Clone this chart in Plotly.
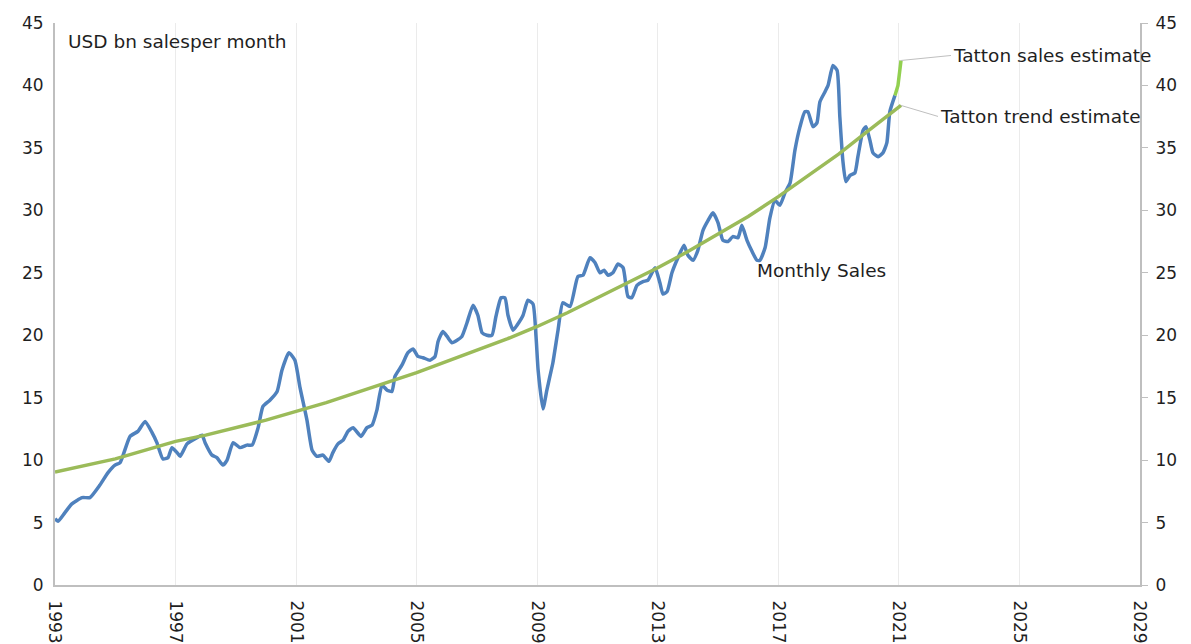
import plotly.graph_objects as go

# ---- data ----
sales_year = [1993.00, 1993.10, 1993.33, 1993.56, 1993.90, 1994.16, 1994.49, 1994.76, 1994.99, 1995.16,
              1995.49, 1995.75, 1995.99, 1996.22, 1996.38, 1996.58, 1996.75, 1996.88, 1997.05, 1997.15,
              1997.38, 1997.71, 1997.88, 1997.98, 1998.21, 1998.37, 1998.57, 1998.71, 1998.91, 1999.14,
              1999.37, 1999.54, 1999.74, 1999.90, 2000.13, 2000.37, 2000.53, 2000.76, 2000.96, 2001.13,
              2001.36, 2001.53, 2001.69, 2001.89, 2002.09, 2002.22, 2002.39, 2002.56, 2002.72, 2002.89,
              2003.15, 2003.35, 2003.52, 2003.68, 2003.85, 2004.02, 2004.18, 2004.28, 2004.51, 2004.71,
              2004.88, 2005.04, 2005.21, 2005.44, 2005.61, 2005.71, 2005.87, 2006.01, 2006.17, 2006.34,
              2006.50, 2006.67, 2006.87, 2007.03, 2007.17, 2007.33, 2007.50, 2007.63, 2007.80, 2007.93,
              2008.03, 2008.20, 2008.33, 2008.53, 2008.69, 2008.86, 2008.96, 2009.03, 2009.19, 2009.32,
              2009.42, 2009.52, 2009.69, 2009.85, 2010.09, 2010.35, 2010.52, 2010.75, 2010.92, 2011.08,
              2011.22, 2011.35, 2011.51, 2011.68, 2011.85, 2012.01, 2012.14, 2012.31, 2012.51, 2012.67,
              2012.91, 2013.07, 2013.17, 2013.31, 2013.47, 2013.67, 2013.87, 2014.00, 2014.17, 2014.33,
              2014.50, 2014.67, 2014.83, 2015.00, 2015.16, 2015.33, 2015.49, 2015.66, 2015.79, 2015.96,
              2016.13, 2016.29, 2016.39, 2016.56, 2016.72, 2016.89, 2017.05, 2017.22, 2017.39, 2017.55,
              2017.72, 2017.88, 2017.98, 2018.15, 2018.28, 2018.38, 2018.55, 2018.65, 2018.81, 2018.95,
              2019.04, 2019.14, 2019.24, 2019.38, 2019.54, 2019.64, 2019.81, 2019.91, 2020.04, 2020.14,
              2020.31, 2020.47, 2020.60, 2020.70, 2020.87]
sales_value = [5.3, 5.1, 5.8, 6.5, 7.0, 7.0, 8.0, 9.0, 9.6, 9.8,
               11.9, 12.3, 13.1, 12.2, 11.4, 10.1, 10.2, 11.0, 10.6, 10.3,
               11.3, 11.8, 12.0, 11.4, 10.4, 10.2, 9.6, 10.0, 11.4, 11.0,
               11.2, 11.2, 12.6, 14.3, 14.8, 15.5, 17.2, 18.6, 18.0, 15.8,
               13.2, 10.8, 10.3, 10.4, 9.9, 10.6, 11.3, 11.6, 12.3, 12.6,
               11.9, 12.6, 12.8, 14.0, 16.0, 15.6, 15.5, 16.7, 17.6, 18.6,
               18.9, 18.3, 18.2, 18.0, 18.3, 19.5, 20.3, 19.9, 19.4, 19.6,
               19.9, 21.0, 22.4, 21.6, 20.2, 20.0, 20.0, 21.5, 23.0, 23.0,
               21.6, 20.4, 20.8, 21.6, 22.8, 22.5, 19.9, 17.2, 14.1, 15.6,
               16.7, 17.8, 20.4, 22.6, 22.3, 24.7, 24.8, 26.2, 25.8, 25.0,
               25.2, 24.8, 25.0, 25.7, 25.4, 23.1, 23.0, 24.0, 24.3, 24.4,
               25.4, 24.2, 23.3, 23.5, 25.0, 26.2, 27.2, 26.4, 26.0, 26.8,
               28.4, 29.2, 29.8, 29.0, 27.6, 27.5, 27.9, 27.8, 28.8, 27.6,
               26.7, 26.0, 26.0, 27.0, 29.4, 30.8, 30.4, 31.4, 32.2, 34.8,
               36.7, 37.9, 37.9, 36.7, 37.0, 38.7, 39.5, 40.0, 41.6, 41.2,
               37.5, 34.0, 32.3, 32.8, 33.0, 34.3, 36.4, 36.7, 35.6, 34.6,
               34.3, 34.6, 35.4, 37.9, 39.2]

trend_year = [1993, 1994, 1995, 1996, 1997, 1998, 1999, 2000, 2001, 2002,
              2003, 2004, 2005, 2006, 2007, 2008, 2009, 2010, 2011, 2012,
              2013, 2014, 2015, 2016, 2017, 2018, 2019, 2020, 2021, 2021.07]
trend_value = [9.05, 9.6, 10.1, 10.8, 11.5, 12.0, 12.6, 13.2, 13.9, 14.6,
               15.4, 16.2, 17.0, 17.9, 18.8, 19.7, 20.7, 21.8, 23.0, 24.2,
               25.4, 26.7, 28.1, 29.5, 31.1, 32.8, 34.5, 36.4, 38.3, 38.4]

est_year = [2020.87, 2020.97, 2021.07]
est_value = [39.2, 40.0, 42.0]

x_ticks = [1993, 1997, 2001, 2005, 2009, 2013, 2017, 2021, 2025, 2029]
y_ticks = [0, 5, 10, 15, 20, 25, 30, 35, 40, 45]

FONT = "DejaVu Sans"
TXT = "#1f1f1f"
TICK_SIZE = 17
LABEL_SIZE = 18.5

fig = go.Figure()
fig.add_trace(go.Scatter(x=sales_year, y=sales_value, mode="lines",
                         line=dict(color="#4F81BD", width=3.5, shape="spline", smoothing=0.5),
                         name="Monthly Sales", showlegend=False, hoverinfo="skip"))
fig.add_trace(go.Scatter(x=trend_year, y=trend_value, mode="lines",
                         line=dict(color="#9BBB59", width=3.5),
                         name="Tatton trend estimate", showlegend=False, hoverinfo="skip"))
fig.add_trace(go.Scatter(x=est_year, y=est_value, mode="lines", yaxis="y2",
                         line=dict(color="#92D050", width=3.5),
                         name="Tatton sales estimate", showlegend=False, hoverinfo="skip"))

fig.update_layout(
    width=1191, height=644,
    margin=dict(l=47, r=59, t=15, b=67, autoexpand=False),
    paper_bgcolor="white", plot_bgcolor="white",
    font=dict(family=FONT, size=TICK_SIZE, color=TXT),
    xaxis=dict(range=[1993, 2029], tickmode="array", tickvals=x_ticks,
               ticktext=[str(v) for v in x_ticks], tickangle=90,
               showgrid=True, gridcolor="#EBEBEB", gridwidth=1,
               showline=True, linecolor="#BFBFBF", linewidth=2,
               zeroline=False, ticks="", ticklabelstandoff=10,
               tickfont=dict(family=FONT, size=TICK_SIZE, color=TXT), automargin=False),
    yaxis=dict(range=[0, 45], tickmode="array", tickvals=y_ticks,
               showgrid=False, showline=True, linecolor="#BFBFBF", linewidth=2,
               zeroline=False, ticks="", ticklabelstandoff=6,
               tickfont=dict(family=FONT, size=TICK_SIZE, color=TXT), automargin=False),
    yaxis2=dict(range=[0, 45], tickmode="array", tickvals=y_ticks, overlaying="y", side="right",
                showgrid=False, showline=True, linecolor="#BFBFBF", linewidth=2,
                zeroline=False, ticks="outside", ticklen=6, tickcolor="#BFBFBF",
                ticklabelstandoff=4,
                tickfont=dict(family=FONT, size=TICK_SIZE, color=TXT), automargin=False),
)

fig.add_annotation(text="USD bn salesper month", xref="paper", yref="y",
                   x=0.010, y=43.5, xanchor="left", yanchor="middle", showarrow=False,
                   font=dict(family=FONT, size=LABEL_SIZE, color=TXT))
fig.add_annotation(text="Monthly Sales", xref="x", yref="y",
                   x=2016.22, y=25.2, xanchor="left", yanchor="middle", showarrow=False,
                   font=dict(family=FONT, size=LABEL_SIZE, color=TXT))
fig.add_annotation(text="Tatton sales estimate", xref="x", yref="y",
                   x=est_year[-1], y=est_value[-1], ax=50, ay=-5,
                   xanchor="left", yanchor="middle", showarrow=True, arrowhead=0,
                   arrowwidth=1, arrowcolor="#BFBFBF",
                   font=dict(family=FONT, size=LABEL_SIZE, color=TXT))
fig.add_annotation(text="Tatton trend estimate", xref="x", yref="y",
                   x=trend_year[-1], y=trend_value[-1], ax=37, ay=11,
                   xanchor="left", yanchor="middle", showarrow=True, arrowhead=0,
                   arrowwidth=1, arrowcolor="#BFBFBF",
                   font=dict(family=FONT, size=LABEL_SIZE, color=TXT))

fig.write_html("out.html")
